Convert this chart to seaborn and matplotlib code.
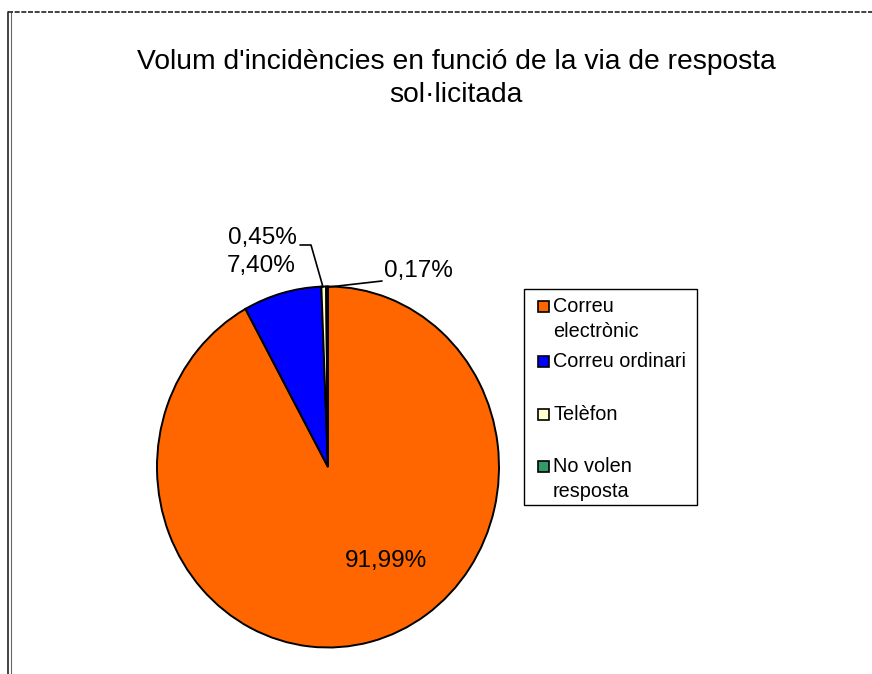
import matplotlib
matplotlib.use("Agg")
import matplotlib.pyplot as plt
import seaborn as sns
from matplotlib.patches import Rectangle

sns.set_theme(style="white")
plt.rcParams['font.family'] = ['Liberation Sans', 'DejaVu Sans']
plt.rcParams['text.color'] = 'black'

categories = ["Correu electrònic", "Correu ordinari", "Telèfon", "No volen resposta"]
legend_lines = [["Correu", "electrònic"], ["Correu ordinari"], ["Telèfon"], ["No volen", "resposta"]]
values = [91.99, 7.40, 0.45, 0.17]
pct_labels = ["91,99%", "7,40%", "0,45%", "0,17%"]
colors = ["#FF6600", "#0000FF", "#FFFFCC", "#339966"]
title_lines = ["Volum d'incidències en funció de la via de resposta", "sol·licitada"]

W, H = 872, 674
fig = plt.figure(figsize=(W / 100, H / 100), dpi=100)

# background axes in pixel coordinates
bg = fig.add_axes([0, 0, 1, 1])
bg.set_xlim(0, W)
bg.set_ylim(H, 0)
bg.axis("off")
bg.plot([8, 8], [12, H], color="#222222", lw=1.2)
bg.plot([11, 11], [12, H], color="#666666", lw=0.8)
bg.plot([8, W], [12, 12], color="#222222", lw=1.2, ls=(0, (3, 1)))

for line, yb in zip(title_lines, [69, 102]):
    bg.text(456, yb, line, ha="center", va="baseline", fontsize=20.3, color="black")

# legend drawn manually
bg.add_patch(Rectangle((524, 289), 173, 216, facecolor="white", edgecolor="black", lw=1))
entry_base = [312, 367, 420, 472]
for lines, col, yb in zip(legend_lines, colors, entry_base):
    bg.add_patch(Rectangle((538, yb - 11), 11, 11, facecolor=col, edgecolor="black", lw=1.2))
    for k, txt in enumerate(lines):
        bg.text(553, yb + 25 * k, txt, ha="left", va="baseline", fontsize=14.3, color="black")

# pie axes (slightly elliptical as in the reference)
cx, cy, rx, ry = 328, 467, 171, 180.5
pax = fig.add_axes([(cx - rx) / W, (H - cy - ry) / H, 2 * rx / W, 2 * ry / H])
wedges, _ = pax.pie(values, colors=colors, startangle=90, counterclock=False,
                    wedgeprops=dict(edgecolor="black", linewidth=1.4))
pax.set_aspect("auto")
pax.set_xlim(-1, 1)
pax.set_ylim(-1, 1)

def px(x, y):
    return (x - cx) / rx, (cy - y) / ry

fs = 17.5
pax.text(*px(386, 561), pct_labels[0], ha="center", va="center", fontsize=fs)
pax.text(*px(261, 266), pct_labels[1], ha="center", va="center", fontsize=fs, clip_on=False)
pax.text(*px(262, 238), pct_labels[2], ha="center", va="center", fontsize=fs, clip_on=False)
pax.text(*px(418, 271), pct_labels[3], ha="center", va="center", fontsize=fs, clip_on=False)
# leader lines
l1 = [px(300, 245), px(311, 245), px(323, 287)]
pax.plot([p[0] for p in l1], [p[1] for p in l1], color="black", lw=1.2, clip_on=False)
l2 = [px(382, 281), px(329, 287)]
pax.plot([p[0] for p in l2], [p[1] for p in l2], color="black", lw=1.2, clip_on=False)

fig.savefig("out.png", dpi=100)
